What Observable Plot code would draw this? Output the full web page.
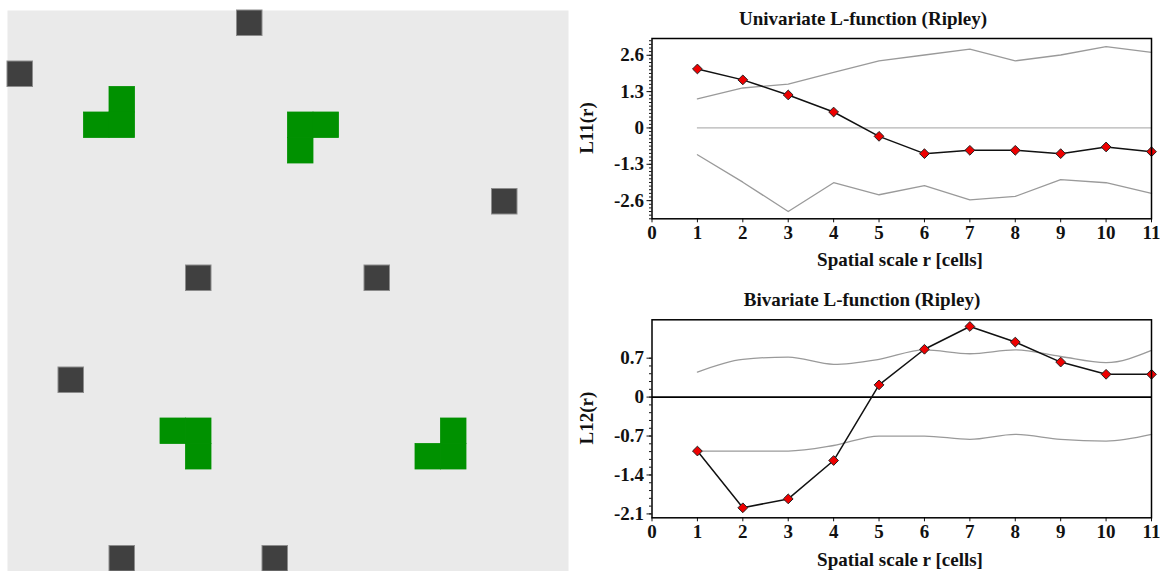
<!DOCTYPE html>
<html>
<head>
<meta charset="utf-8">
<script src="https://cdn.jsdelivr.net/npm/d3@7"></script>
<script src="https://cdn.jsdelivr.net/npm/@observablehq/plot@0.6"></script>
<style>
  body { margin: 0; background: #ffffff; }
  #root { position: relative; width: 1160px; height: 571px; overflow: hidden; background: #ffffff; }
  .abs { position: absolute; }
  .lbl { position: absolute; font-family: "Liberation Serif", "Times New Roman", serif; font-weight: bold; color: #111; white-space: nowrap; transform: translate(-50%, -50%); }
  .rot { transform: translate(-50%, -50%) rotate(-90deg); }
</style>
</head>
<body>
<div id="root"></div>
<script>
// ---------- data ----------
// spatial pattern (22 x 22 cells): column / row indices
const darkCols  = [9, 0, 19, 7, 14, 2, 4, 10];
const darkRows  = [0, 2, 7, 10, 10, 14, 21, 21];
const greenCols = [4, 3, 4, 11, 12, 11, 6, 7, 7, 17, 16, 17];
const greenRows = [3, 4, 4, 4, 4, 5, 16, 16, 17, 16, 17, 17];
const gridSize = 22;

// L-function charts
const scales = [1, 2, 3, 4, 5, 6, 7, 8, 9, 10, 11];
const L11      = [2.11, 1.72, 1.18, 0.57, -0.30, -0.92, -0.80, -0.80, -0.92, -0.68, -0.85];
const L11upper = [1.04, 1.43, 1.57, 1.99, 2.40, 2.61, 2.82, 2.40, 2.61, 2.91, 2.70];
const L11lower = [-0.96, -1.94, -2.99, -1.96, -2.39, -2.06, -2.57, -2.45, -1.85, -1.96, -2.34];
const L12      = [-0.97, -1.99, -1.83, -1.14, 0.22, 0.86, 1.27, 0.99, 0.63, 0.41, 0.41];
const L12upper = [0.45, 0.68, 0.72, 0.59, 0.68, 0.85, 0.78, 0.85, 0.73, 0.62, 0.84];
const L12lower = [-0.97, -0.97, -0.97, -0.87, -0.70, -0.70, -0.76, -0.67, -0.76, -0.79, -0.67];

const xTicks = [0, 1, 2, 3, 4, 5, 6, 7, 8, 9, 10, 11];
const L11Ticks = [-2.6, -1.3, 0, 1.3, 2.6];
const L12Ticks = [-2.1, -1.4, -0.7, 0, 0.7];
const L11Domain = [-3.25, 3.2];
const L12Domain = [-2.17, 1.39];

const titles = ["Univariate L-function (Ripley)", "Bivariate L-function (Ripley)"];
const yLabels = ["L11(r)", "L12(r)"];
const xLabel = "Spatial scale r [cells]";

// ---------- build ----------
const root = document.getElementById("root");

const darkCells = darkCols.map((c, i) => ({c, r: darkRows[i]}));
const greenCells = greenCols.map((c, i) => ({c, r: greenRows[i]}));

const grid = Plot.plot({
  width: 570, height: 571,
  marginLeft: 7, marginRight: 2, marginTop: 10, marginBottom: 0,
  x: {domain: [0, gridSize], axis: null},
  y: {domain: [0, gridSize], reverse: true, axis: null},
  style: {background: "transparent"},
  marks: [
    Plot.frame({fill: "#eaeaea", stroke: null}),
    Plot.rect(greenCells, {x1: "c", x2: d => d.c + 1, y1: "r", y2: d => d.r + 1, fill: "#009100", stroke: "#009100", strokeWidth: 0.8}),
    Plot.rect(darkCells, {x1: "c", x2: d => d.c + 1, y1: "r", y2: d => d.r + 1, fill: "#404040", stroke: "#8c8c8c", strokeWidth: 1})
  ]
});
grid.classList.add("abs");
grid.style.left = "0px";
grid.style.top = "0px";
root.appendChild(grid);

const fmt = d => String(d);
const axisStyle = {fontFamily: "'Liberation Serif', 'Times New Roman', serif", fontWeight: "bold", fontSize: "19px", color: "#111", background: "transparent", overflow: "visible"};

function minorTicks(step, lo, hi) {
  const out = [];
  for (let k = Math.ceil(lo / step - 1e-9); k * step <= hi + 1e-9; k++) out.push(+(k * step).toFixed(4));
  return out;
}

function chart({obs, hi, lo, domain, ticks, minor, marginTop, marginBottom, height, zeroStyle, curve}) {
  const rows = scales.map((r, i) => ({r, obs: obs[i], hi: hi[i], lo: lo[i]}));
  const zero = zeroStyle === "full"
    ? Plot.ruleY([0], {stroke: "#000", strokeWidth: 1.8})
    : Plot.ruleY([0], {x1: scales[0], x2: scales[scales.length - 1], stroke: "#b4b4b4", strokeWidth: 1.2});
  return Plot.plot({
    width: 590, height,
    marginLeft: 81.5, marginRight: 9, marginTop, marginBottom,
    style: axisStyle,
    x: {domain: [0, 11]},
    y: {domain},
    marks: [
      zero,
      Plot.line(rows, {x: "r", y: "hi", stroke: "#9a9a9a", strokeWidth: 1.3, curve}),
      Plot.line(rows, {x: "r", y: "lo", stroke: "#9a9a9a", strokeWidth: 1.3, curve}),
      Plot.line(rows, {x: "r", y: "obs", stroke: "#111", strokeWidth: 1.5}),
      Plot.dot(rows, {x: "r", y: "obs", symbol: "diamond2", r: 4.4, fill: "#ee0000", stroke: "#222", strokeWidth: 1}),
      Plot.axisX(xTicks, {tickSize: 4, tickPadding: 3, label: null, tickFormat: fmt}),
      Plot.axisY(minor, {tickSize: 2.5, label: null, tickFormat: () => ""}),
      Plot.axisY(ticks, {tickSize: 5, tickPadding: 3, label: null, tickFormat: fmt}),
      Plot.frame({stroke: "#000", strokeWidth: 1.5})
    ]
  });
}

const top1 = chart({
  obs: L11, hi: L11upper, lo: L11lower, domain: L11Domain, ticks: L11Ticks,
  minor: minorTicks(0.13, L11Domain[0], L11Domain[1]),
  marginTop: 38, marginBottom: 66.7, height: 285, zeroStyle: "partial", curve: "linear"
});
top1.classList.add("abs");
top1.style.left = "570px";
top1.style.top = "0px";
root.appendChild(top1);

const bot = chart({
  obs: L12, hi: L12upper, lo: L12lower, domain: L12Domain, ticks: L12Ticks,
  minor: minorTicks(0.14, L12Ticks[0], L12Ticks[L12Ticks.length - 1]),
  marginTop: 34.3, marginBottom: 53.7, height: 286, zeroStyle: "full", curve: "monotone-x"
});
bot.classList.add("abs");
bot.style.left = "570px";
bot.style.top = "285px";
root.appendChild(bot);

function label(text, x, y, size, rotate) {
  const d = document.createElement("div");
  d.className = "lbl" + (rotate ? " rot" : "");
  d.textContent = text;
  d.style.left = x + "px";
  d.style.top = y + "px";
  d.style.fontSize = size + "px";
  root.appendChild(d);
}
label(titles[0], 863, 19, 19);
label(xLabel, 900, 260, 19);
label(yLabels[0], 587, 128, 19, true);
label(titles[1], 862, 300, 19);
label(xLabel, 900, 560, 19);
label(yLabels[1], 587, 418, 19, true);
</script>
</body>
</html>
